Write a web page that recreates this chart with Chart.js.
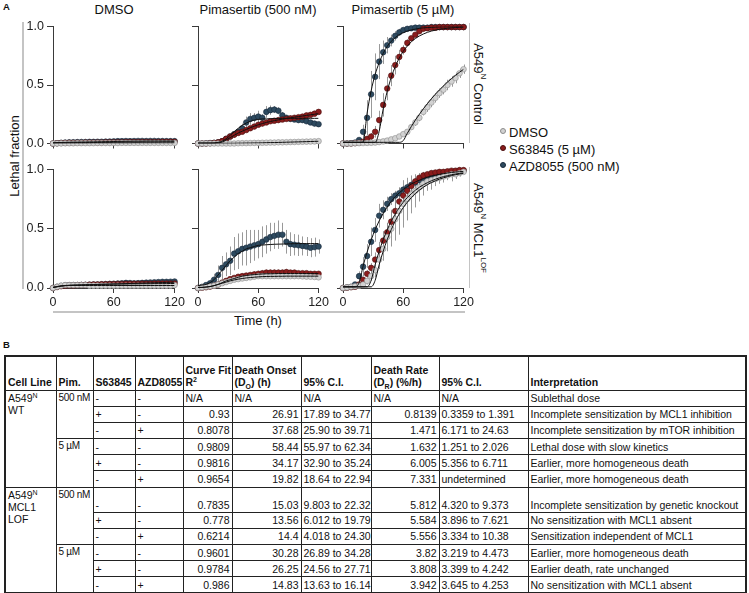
<!DOCTYPE html>
<html lang="en">
<head>
<meta charset="UTF-8">
<title>Lethal fraction kinetics</title>
<script src="https://cdn.jsdelivr.net/npm/chart.js"></script>
<style>
    body {
        margin: 0;
        width: 749px;
        height: 593px;
        position: relative;
        overflow: hidden;
        background: #fff;
        color: #111;
        font-family: Arial, 'Liberation Sans', sans-serif;
    }
    canvas.panel { position: absolute; }
    .lbl { position: absolute; white-space: nowrap; }
    .letter { font-weight: bold; font-size: 9.5px; }
    .title { font-size: 13px; transform: translateX(-50%); }
    .ylab { font-size: 13px; transform: translate(-50%, -50%) rotate(-90deg); }
    .rlab { font-size: 13px; writing-mode: vertical-rl; transform: translate(-50%, -50%); }
    .rlab sup { font-size: 8px; line-height: 0; }
    .rule { position: absolute; background: #c4c4c4; }
    .leg { position: absolute; font-size: 13px; line-height: 16px; white-space: nowrap; }
    .leg i { display: inline-block; width: 4px; height: 4px; border-radius: 50%; margin-right: 3px; vertical-align: 3px; border: 0.6px solid #555; }
    #tbl {
        position: absolute;
        left: 4px;
        top: 355px;
        width: 741px;
        table-layout: fixed;
        border-collapse: collapse;
        border: 2px solid #222;
        font-size: 10.5px;
    }
    #tbl th, #tbl td {
        border: 1px solid #222;
        padding: 0 2px;
        line-height: 12px;
        white-space: nowrap;
        overflow: hidden;
        text-align: left;
        vertical-align: middle;
    }
    #tbl th { font-weight: bold; vertical-align: bottom; padding-bottom: 2px; }
    #tbl thead tr { height: 34px; }
    #tbl tbody tr { height: 16.2px; }
    #tbl tbody tr.tall { height: 25px; }
    #tbl tr.tall td { vertical-align: bottom; padding-bottom: 1px; }
    #tbl td.top, #tbl tr.tall td.top { vertical-align: top; padding-top: 1px; }
    #tbl td.pim { padding: 1px 0 0 2px; font-size: 10px; letter-spacing: -0.3px; overflow: visible; }
    #tbl td.num { text-align: right; }
    #tbl sup, #tbl sub { font-size: 7px; line-height: 0; }
</style>
</head>
<body>
<div class="lbl letter" style="left:3px; top:1px;">A</div>
<div class="lbl title" style="left:114px; top:2px;">DMSO</div>
<div class="lbl title" style="left:258px; top:2px;">Pimasertib (500 nM)</div>
<div class="lbl title" style="left:403px; top:2px;">Pimasertib (5 µM)</div>
<div class="lbl ylab" style="left:14px; top:156px;">Lethal fraction</div>
<div class="rule" style="left:22px; top:22px; width:1.5px; height:267px;"></div>
<div class="lbl title" style="left:258px; top:313px;">Time (h)</div>
<div class="rule" style="left:53px; top:311px; width:412px; height:1.5px;"></div>
<div class="rule" style="left:469px; top:23px; width:1px; height:120px;"></div>
<div class="rule" style="left:469px; top:167px; width:1px; height:121px;"></div>
<div class="lbl rlab" style="left:478px; top:84px;">A549<sup>N</sup> Control</div>
<div class="lbl rlab" style="left:478px; top:228px;">A549<sup>N</sup> MCL1<sup>LOF</sup></div>
<div id="legend"></div>
<div class="lbl letter" style="left:3px; top:339px;">B</div>
<table id="tbl">
    <colgroup>
        <col style="width:51px"><col style="width:37px"><col style="width:42px"><col style="width:48px">
        <col style="width:49px"><col style="width:69px"><col style="width:70px"><col style="width:68px">
        <col style="width:89px"><col style="width:218px">
    </colgroup>
    <thead>
        <tr>
            <th>Cell Line</th><th>Pim.</th><th>S63845</th><th>AZD8055</th>
            <th>Curve Fit<br>R<sup>2</sup></th><th>Death Onset<br>(D<sub>O</sub>) (h)</th><th>95% C.I.</th>
            <th>Death Rate<br>(D<sub>R</sub>) (%/h)</th><th>95% C.I.</th><th>Interpretation</th>
        </tr>
    </thead>
    <tbody id="tbody"></tbody>
</table>

<script>
// time points (h)
const TIME = [0, 4, 8, 12, 16, 20, 24, 28, 32, 36,
    40, 44, 48, 52, 56, 60, 64, 68, 72, 76,
    80, 84, 88, 92, 96, 100, 104, 108, 112, 116, 120];

const SERIES = ['DMSO', 'S63845 (5 µM)', 'AZD8055 (500 nM)'];
const TITLES = ['DMSO', 'Pimasertib (500 nM)', 'Pimasertib (5 µM)'];
const Y_TICKS = [0, 0.5, 1];
const X_TICKS = [0, 60, 120];

// ---- A549N Control, DMSO ----
const CTL_DMSO_DMSO = [0, 0, 0.001, 0.002, 0.002, 0.002, 0.003, 0.003, 0.003, 0.003,
    0.003, 0.004, 0.004, 0.004, 0.004, 0.004, 0.004, 0.005, 0.005, 0.005,
    0.005, 0.005, 0.005, 0.005, 0.005, 0.005, 0.005, 0.005, 0.005, 0.005, 0.005];
const CTL_DMSO_S63 = [0, 0.002, 0.004, 0.005, 0.006, 0.006, 0.007, 0.007, 0.008, 0.008,
    0.008, 0.009, 0.009, 0.010, 0.010, 0.010, 0.011, 0.011, 0.012, 0.012,
    0.012, 0.012, 0.013, 0.013, 0.013, 0.013, 0.013, 0.014, 0.014, 0.014, 0.014];
const CTL_DMSO_AZD = [0, 0.003, 0.006, 0.008, 0.010, 0.011, 0.012, 0.013, 0.013, 0.014,
    0.014, 0.015, 0.015, 0.016, 0.017, 0.018, 0.020, 0.020, 0.021, 0.020,
    0.021, 0.022, 0.022, 0.021, 0.022, 0.022, 0.021, 0.021, 0.020, 0.020, 0.020];
const FIT_CTL_DMSO_DMSO = [0.003, 0.003, 0.003, 0.003, 0.003, 0.003, 0.003, 0.003, 0.003, 0.003,
    0.004, 0.004, 0.004, 0.004, 0.004, 0.004, 0.004, 0.004, 0.004, 0.004,
    0.005, 0.005, 0.005, 0.005, 0.005, 0.005, 0.005, 0.005, 0.005, 0.005, 0.005];
const FIT_CTL_DMSO_S63 = [0.004, 0.005, 0.006, 0.006, 0.007, 0.007, 0.008, 0.008, 0.008, 0.009,
    0.009, 0.009, 0.010, 0.010, 0.010, 0.011, 0.011, 0.011, 0.012, 0.012,
    0.012, 0.012, 0.013, 0.013, 0.013, 0.013, 0.013, 0.014, 0.014, 0.014, 0.014];
const FIT_CTL_DMSO_AZD = [0.006, 0.008, 0.009, 0.010, 0.011, 0.012, 0.012, 0.013, 0.013, 0.014,
    0.014, 0.015, 0.015, 0.016, 0.016, 0.017, 0.018, 0.018, 0.019, 0.019,
    0.020, 0.020, 0.020, 0.021, 0.021, 0.021, 0.021, 0.021, 0.021, 0.021, 0.021];

// ---- A549N Control, Pimasertib 500 nM ----
const CTL_P500_DMSO = [0, 0, 0, 0, 0, 0, 0, 0, 0, 0,
    0.002, 0.003, 0.003, 0.004, 0.005, 0.005, 0.006, 0.007, 0.008, 0.008,
    0.010, 0.010, 0.011, 0.012, 0.013, 0.014, 0.015, 0.016, 0.017, 0.018, 0.020];
const CTL_P500_S63 = [0, 0, 0, 0.002, 0.005, 0.010, 0.020, 0.040, 0.060, 0.075,
    0.090, 0.100, 0.115, 0.130, 0.145, 0.160, 0.170, 0.180, 0.190, 0.195,
    0.200, 0.205, 0.210, 0.215, 0.220, 0.225, 0.230, 0.240, 0.245, 0.255, 0.270];
const CTL_P500_AZD = [0, 0, 0.002, 0.004, 0.006, 0.010, 0.020, 0.040, 0.060, 0.080,
    0.100, 0.130, 0.180, 0.210, 0.220, 0.230, 0.220, 0.270, 0.285, 0.290,
    0.280, 0.240, 0.220, 0.210, 0.205, 0.200, 0.200, 0.190, 0.180, 0.170, 0.165];
const FIT_CTL_P500_DMSO = [0.002, 0.002, 0.002, 0.002, 0.002, 0.002, 0.002, 0.002, 0.002, 0.002,
    0.003, 0.003, 0.004, 0.004, 0.005, 0.005, 0.006, 0.007, 0.008, 0.008,
    0.009, 0.010, 0.011, 0.012, 0.013, 0.014, 0.015, 0.016, 0.017, 0.018, 0.019];
const FIT_CTL_P500_S63 = [0.003, 0.003, 0.003, 0.003, 0.003, 0.005, 0.012, 0.030, 0.050, 0.070,
    0.090, 0.105, 0.120, 0.135, 0.148, 0.160, 0.170, 0.180, 0.188, 0.195,
    0.202, 0.208, 0.214, 0.220, 0.225, 0.230, 0.235, 0.240, 0.245, 0.250, 0.255];
const FIT_CTL_P500_AZD = [0.004, 0.004, 0.004, 0.004, 0.005, 0.010, 0.020, 0.040, 0.070, 0.100,
    0.130, 0.155, 0.175, 0.190, 0.200, 0.205, 0.210, 0.210, 0.212, 0.213,
    0.214, 0.215, 0.215, 0.215, 0.215, 0.215, 0.215, 0.215, 0.215, 0.215, 0.215];
const ERR_CTL_P500_S63 = [0, 0, 0, 0, 0.004, 0.006, 0.010, 0.010, 0.015, 0.020,
    0.020, 0.020, 0.020, 0.020, 0.025, 0.020, 0.020, 0.020, 0.020, 0.020,
    0.020, 0.020, 0.020, 0.020, 0.020, 0.020, 0.020, 0.020, 0.020, 0.020, 0.020];
const ERR_CTL_P500_AZD = [0, 0, 0, 0, 0.004, 0.006, 0.010, 0.015, 0.020, 0.030,
    0.030, 0.040, 0.050, 0.050, 0.040, 0.050, 0.030, 0.050, 0.040, 0.030,
    0.030, 0.030, 0.020, 0.020, 0.020, 0.020, 0.020, 0.020, 0.020, 0.020, 0.020];

// ---- A549N Control, Pimasertib 5 µM ----
const CTL_P5_DMSO = [0, 0, 0, 0.002, 0.003, 0.004, 0.005, 0.006, 0.008, 0.012,
    0.018, 0.025, 0.035, 0.045, 0.060, 0.080, 0.100, 0.140, 0.180, 0.220,
    0.270, 0.310, 0.350, 0.390, 0.430, 0.460, 0.500, 0.530, 0.560, 0.600, 0.635];
const CTL_P5_S63 = [0, 0, 0, 0.003, 0.006, 0.015, 0.040, 0.060, 0.100, 0.200,
    0.330, 0.470, 0.580, 0.670, 0.740, 0.800, 0.860, 0.900, 0.930, 0.960,
    0.980, 0.985, 0.990, 0.990, 0.995, 0.995, 0.995, 0.995, 0.995, 0.995, 0.995];
const CTL_P5_AZD = [0, 0, 0.003, 0.008, 0.030, 0.100, 0.220, 0.420, 0.570, 0.700,
    0.780, 0.840, 0.880, 0.920, 0.950, 0.970, 0.980, 0.985, 0.990, 0.990,
    0.990, 0.990, 0.995, 0.995, 0.995, 0.995, 0.995, 0.995, 0.995, 0.995, 0.995];
const FIT_CTL_P5_DMSO = [0.010, 0.010, 0.010, 0.010, 0.010, 0.010, 0.010, 0.010, 0.010, 0.010,
    0.010, 0.010, 0.010, 0.010, 0.010, 0.025, 0.087, 0.145, 0.200, 0.249,
    0.297, 0.341, 0.383, 0.422, 0.458, 0.492, 0.525, 0.555, 0.583, 0.609, 0.634];
const FIT_CTL_P5_S63 = [0.010, 0.010, 0.010, 0.010, 0.010, 0.010, 0.010, 0.010, 0.010, 0.104,
    0.295, 0.446, 0.564, 0.657, 0.730, 0.788, 0.833, 0.869, 0.897, 0.919,
    0.936, 0.950, 0.961, 0.969, 0.976, 0.981, 0.985, 0.988, 0.991, 0.993, 0.994];
const FIT_CTL_P5_AZD = [0.010, 0.010, 0.010, 0.010, 0.010, 0.013, 0.260, 0.450, 0.590, 0.690,
    0.770, 0.830, 0.873, 0.905, 0.930, 0.947, 0.961, 0.971, 0.978, 0.984,
    0.988, 0.991, 0.993, 0.995, 0.996, 0.997, 0.998, 0.998, 0.999, 0.999, 0.999];
const ERR_CTL_P5_DMSO = [0, 0, 0, 0, 0, 0, 0, 0, 0.005, 0.005,
    0.010, 0.010, 0.010, 0.015, 0.015, 0.020, 0.020, 0.025, 0.030, 0.030,
    0.030, 0.040, 0.040, 0.040, 0.040, 0.040, 0.045, 0.045, 0.045, 0.040, 0.040];
const ERR_CTL_P5_S63 = [0, 0, 0, 0, 0.005, 0.010, 0.020, 0.030, 0.050, 0.080,
    0.100, 0.100, 0.090, 0.080, 0.060, 0.040, 0.030, 0.020, 0.010, 0.010,
    0.010, 0, 0, 0, 0, 0, 0, 0, 0, 0, 0];
const ERR_CTL_P5_AZD = [0, 0, 0, 0.005, 0.020, 0.060, 0.150, 0.200, 0.200, 0.150,
    0.100, 0.070, 0.050, 0.040, 0.030, 0.020, 0.010, 0.010, 0.010, 0.010,
    0.010, 0, 0, 0, 0, 0, 0, 0, 0, 0, 0];

// ---- A549N MCL1 LOF, DMSO ----
const LOF_DMSO_DMSO = [0, 0.010, 0.020, 0.025, 0.025, 0.025, 0.025, 0.025, 0.025, 0.020,
    0.020, 0.020, 0.020, 0.020, 0.020, 0.020, 0.020, 0.020, 0.020, 0.020,
    0.020, 0.020, 0.020, 0.020, 0.020, 0.020, 0.020, 0.020, 0.020, 0.020, 0.025];
const LOF_DMSO_S63 = [0, 0.008, 0.015, 0.020, 0.022, 0.022, 0.024, 0.025, 0.026, 0.028,
    0.030, 0.030, 0.031, 0.032, 0.033, 0.033, 0.034, 0.034, 0.035, 0.035,
    0.035, 0.035, 0.036, 0.036, 0.036, 0.037, 0.037, 0.037, 0.038, 0.038, 0.038];
const LOF_DMSO_AZD = [0, 0.010, 0.018, 0.022, 0.024, 0.025, 0.025, 0.026, 0.027, 0.028,
    0.030, 0.030, 0.032, 0.033, 0.035, 0.036, 0.038, 0.040, 0.043, 0.042,
    0.040, 0.041, 0.043, 0.045, 0.047, 0.048, 0.050, 0.052, 0.052, 0.053, 0.055];
const FIT_LOF_DMSO_DMSO = [0.005, 0.012, 0.018, 0.020, 0.021, 0.021, 0.021, 0.021, 0.021, 0.021,
    0.021, 0.021, 0.021, 0.021, 0.021, 0.021, 0.021, 0.021, 0.021, 0.021,
    0.021, 0.021, 0.021, 0.021, 0.021, 0.021, 0.021, 0.021, 0.021, 0.021, 0.021];
const FIT_LOF_DMSO_S63 = [0.005, 0.010, 0.016, 0.020, 0.022, 0.024, 0.025, 0.026, 0.027, 0.028,
    0.029, 0.030, 0.031, 0.031, 0.032, 0.033, 0.033, 0.034, 0.034, 0.035,
    0.035, 0.035, 0.036, 0.036, 0.036, 0.037, 0.037, 0.037, 0.037, 0.038, 0.038];
const FIT_LOF_DMSO_AZD = [0.005, 0.011, 0.017, 0.021, 0.023, 0.024, 0.025, 0.026, 0.027, 0.028,
    0.029, 0.030, 0.031, 0.032, 0.033, 0.034, 0.035, 0.036, 0.037, 0.038,
    0.039, 0.040, 0.041, 0.042, 0.043, 0.044, 0.045, 0.046, 0.047, 0.048, 0.049];
const ERR_LOF_DMSO_AZD = [0, 0.003, 0.004, 0.005, 0.005, 0.005, 0.005, 0.006, 0.006, 0.006,
    0.007, 0.007, 0.007, 0.008, 0.008, 0.008, 0.009, 0.009, 0.010, 0.010,
    0.010, 0.010, 0.011, 0.011, 0.012, 0.012, 0.012, 0.012, 0.012, 0.012, 0.012];

// ---- A549N MCL1 LOF, Pimasertib 500 nM ----
const LOF_P500_DMSO = [0, 0.005, 0.010, 0.015, 0.020, 0.030, 0.040, 0.050, 0.060, 0.070,
    0.075, 0.080, 0.085, 0.090, 0.095, 0.100, 0.100, 0.100, 0.100, 0.100,
    0.100, 0.100, 0.100, 0.100, 0.100, 0.100, 0.098, 0.096, 0.095, 0.093, 0.090];
const LOF_P500_S63 = [0, 0.002, 0.006, 0.012, 0.020, 0.030, 0.045, 0.060, 0.075, 0.085,
    0.095, 0.100, 0.105, 0.110, 0.115, 0.120, 0.125, 0.130, 0.130, 0.130,
    0.130, 0.130, 0.135, 0.130, 0.130, 0.125, 0.125, 0.125, 0.120, 0.120, 0.120];
const LOF_P500_AZD = [0, 0.010, 0.025, 0.040, 0.070, 0.110, 0.170, 0.200, 0.230, 0.290,
    0.310, 0.330, 0.340, 0.350, 0.360, 0.370, 0.390, 0.410, 0.430, 0.440,
    0.450, 0.450, 0.390, 0.370, 0.365, 0.360, 0.355, 0.350, 0.340, 0.345, 0.350];
const FIT_LOF_P500_DMSO = [0.005, 0.005, 0.008, 0.012, 0.020, 0.030, 0.040, 0.050, 0.060, 0.068,
    0.075, 0.080, 0.085, 0.088, 0.091, 0.094, 0.096, 0.097, 0.098, 0.098,
    0.099, 0.099, 0.100, 0.100, 0.100, 0.100, 0.100, 0.100, 0.100, 0.100, 0.100];
const FIT_LOF_P500_S63 = [0.005, 0.005, 0.008, 0.012, 0.020, 0.030, 0.045, 0.060, 0.070, 0.080,
    0.090, 0.100, 0.105, 0.110, 0.113, 0.116, 0.118, 0.120, 0.120, 0.121,
    0.122, 0.122, 0.122, 0.122, 0.122, 0.122, 0.122, 0.122, 0.122, 0.122, 0.122];
const FIT_LOF_P500_AZD = [0.020, 0.025, 0.030, 0.045, 0.070, 0.110, 0.150, 0.190, 0.230, 0.260,
    0.290, 0.310, 0.330, 0.340, 0.350, 0.360, 0.362, 0.365, 0.367, 0.369,
    0.370, 0.371, 0.372, 0.373, 0.374, 0.375, 0.375, 0.375, 0.375, 0.375, 0.375];
const ERR_LOF_P500_DMSO = [0, 0.002, 0.003, 0.004, 0.005, 0.006, 0.007, 0.008, 0.009, 0.010,
    0.010, 0.010, 0.010, 0.010, 0.010, 0.010, 0.010, 0.010, 0.010, 0.010,
    0.010, 0.010, 0.010, 0.010, 0.010, 0.010, 0.010, 0.010, 0.010, 0.010, 0.010];
const ERR_LOF_P500_S63 = [0, 0.003, 0.005, 0.008, 0.010, 0.012, 0.015, 0.018, 0.020, 0.020,
    0.020, 0.022, 0.022, 0.022, 0.025, 0.025, 0.025, 0.025, 0.025, 0.025,
    0.025, 0.025, 0.025, 0.022, 0.022, 0.020, 0.020, 0.020, 0.020, 0.018, 0.018];
const ERR_LOF_P500_AZD = [0, 0.010, 0.020, 0.030, 0.050, 0.080, 0.100, 0.100, 0.120, 0.140,
    0.150, 0.140, 0.150, 0.140, 0.130, 0.120, 0.130, 0.120, 0.120, 0.110,
    0.120, 0.100, 0.100, 0.100, 0.090, 0.090, 0.080, 0.080, 0.080, 0.080, 0.060];

// ---- A549N MCL1 LOF, Pimasertib 5 µM ----
const LOF_P5_DMSO = [0, 0.005, 0.010, 0.015, 0.020, 0.030, 0.060, 0.100, 0.150, 0.240,
    0.330, 0.430, 0.500, 0.580, 0.650, 0.710, 0.750, 0.790, 0.820, 0.850,
    0.880, 0.900, 0.910, 0.920, 0.930, 0.940, 0.950, 0.960, 0.960, 0.970, 0.980];
const LOF_P5_S63 = [0, 0.003, 0.006, 0.010, 0.030, 0.070, 0.120, 0.170, 0.240, 0.320,
    0.400, 0.470, 0.560, 0.650, 0.730, 0.780, 0.820, 0.860, 0.900, 0.930,
    0.950, 0.960, 0.970, 0.975, 0.980, 0.980, 0.985, 0.990, 0.990, 0.995, 0.995];
const LOF_P5_AZD = [0, 0.005, 0.010, 0.030, 0.100, 0.180, 0.270, 0.390, 0.490, 0.610,
    0.660, 0.710, 0.750, 0.780, 0.800, 0.830, 0.850, 0.870, 0.890, 0.910,
    0.930, 0.940, 0.950, 0.960, 0.960, 0.970, 0.975, 0.980, 0.985, 0.990, 0.990];
const FIT_LOF_P5_DMSO = [0.010, 0.010, 0.010, 0.010, 0.010, 0.010, 0.010, 0.010, 0.064, 0.196,
    0.310, 0.408, 0.492, 0.564, 0.626, 0.679, 0.724, 0.763, 0.797, 0.826,
    0.850, 0.872, 0.890, 0.905, 0.919, 0.930, 0.940, 0.949, 0.956, 0.962, 0.968];
const FIT_LOF_P5_S63 = [0.010, 0.010, 0.010, 0.010, 0.010, 0.010, 0.010, 0.064, 0.197, 0.309,
    0.408, 0.491, 0.563, 0.625, 0.678, 0.724, 0.763, 0.796, 0.825, 0.850,
    0.871, 0.889, 0.905, 0.918, 0.930, 0.940, 0.948, 0.956, 0.962, 0.967, 0.972];
const FIT_LOF_P5_AZD = [0.010, 0.010, 0.010, 0.010, 0.045, 0.185, 0.303, 0.405, 0.492, 0.566,
    0.630, 0.684, 0.730, 0.770, 0.803, 0.832, 0.856, 0.877, 0.895, 0.910,
    0.923, 0.935, 0.944, 0.952, 0.959, 0.965, 0.970, 0.975, 0.978, 0.982, 0.984];
const ERR_LOF_P5_DMSO = [0, 0, 0.005, 0.010, 0.010, 0.020, 0.030, 0.040, 0.060, 0.080,
    0.100, 0.120, 0.150, 0.180, 0.200, 0.200, 0.180, 0.160, 0.140, 0.120,
    0.100, 0.080, 0.080, 0.060, 0.050, 0.050, 0.040, 0.060, 0.040, 0.030, 0.020];
const ERR_LOF_P5_S63 = [0, 0, 0, 0.005, 0.010, 0.020, 0.030, 0.040, 0.060, 0.070,
    0.080, 0.080, 0.100, 0.080, 0.070, 0.060, 0.050, 0.040, 0.030, 0.030,
    0.020, 0.020, 0.020, 0.010, 0.010, 0.010, 0.010, 0.010, 0.010, 0.010, 0.010];
const ERR_LOF_P5_AZD = [0, 0, 0.005, 0.010, 0.040, 0.080, 0.100, 0.120, 0.100, 0.100,
    0.080, 0.060, 0.050, 0.040, 0.040, 0.030, 0.030, 0.030, 0.020, 0.020,
    0.020, 0.020, 0.020, 0.010, 0.010, 0.010, 0.010, 0.010, 0.010, 0.010, 0.010];

// ---- table B ----
const TBL_PIM = ['500 nM', '5 µM'];
const TBL_S63 = ['-', '+', '-', '-', '+', '-', '-', '+', '-', '-', '+', '-'];
const TBL_AZD = ['-', '-', '+', '-', '-', '+', '-', '-', '+', '-', '-', '+'];
const TBL_R2 = ['N/A', '0.93', '0.8078', '0.9809', '0.9816', '0.9654', '0.7835', '0.778', '0.6214', '0.9601', '0.9784', '0.986'];
const TBL_ONSET = ['N/A', '26.91', '37.68', '58.44', '34.17', '19.82', '15.03', '13.56', '14.4', '30.28', '26.25', '14.83'];
const TBL_ONSET_CI = ['N/A', '17.89 to 34.77', '25.90 to 39.71', '55.97 to 62.34', '32.90 to 35.24', '18.64 to 22.94',
    '9.803 to 22.32', '6.012 to 19.79', '4.018 to 24.30', '26.89 to 34.28', '24.56 to 27.71', '13.63 to 16.14'];
const TBL_RATE = ['N/A', '0.8139', '1.471', '1.632', '6.005', '7.331', '5.812', '5.584', '5.556', '3.82', '3.808', '3.942'];
const TBL_RATE_CI = ['N/A', '0.3359 to 1.391', '6.171 to 24.63', '1.251 to 2.026', '5.356 to 6.711', 'undetermined',
    '4.320 to 9.373', '3.896 to 7.621', '3.334 to 10.38', '3.219 to 4.473', '3.399 to 4.242', '3.645 to 4.253'];
const TBL_INTERP = ['Sublethal dose', 'Incomplete sensitization by MCL1 inhibition', 'Incomplete sensitization by mTOR inhibition',
    'Lethal dose with slow kinetics', 'Earlier, more homogeneous death', 'Earlier, more homogeneous death',
    'Incomplete sensitization by genetic knockout', 'No sensitization with MCL1 absent', 'Sensitization independent of MCL1',
    'Earlier, more homogeneous death', 'Earlier death, rate unchanged', 'No sensitization with MCL1 absent'];
const TBL_CELL = ['A549<sup>N</sup><br>WT', 'A549<sup>N</sup><br>MCL1<br>LOF'];

const FONT = "Arial, 'Liberation Sans', sans-serif";
const FILL = ['#d2d2d2', '#8b1c1c', '#2d4a5f'];
const EDGE = ['#8c8c8c', '#4a0f0f', '#17283a'];
const AXIS = '#3a3a3a';

// layout of the six plot areas
const COL_X = [53, 198, 343];
const COL_W = [122, 121, 121];
const ROW_Y = [24, 167];
const ROW_H = [120, 121];

const PANELS = [
    [0, 0, [CTL_DMSO_DMSO, CTL_DMSO_S63, CTL_DMSO_AZD], [FIT_CTL_DMSO_DMSO, FIT_CTL_DMSO_S63, FIT_CTL_DMSO_AZD], [null, null, null]],
    [0, 1, [CTL_P500_DMSO, CTL_P500_S63, CTL_P500_AZD], [FIT_CTL_P500_DMSO, FIT_CTL_P500_S63, FIT_CTL_P500_AZD], [null, ERR_CTL_P500_S63, ERR_CTL_P500_AZD]],
    [0, 2, [CTL_P5_DMSO, CTL_P5_S63, CTL_P5_AZD], [FIT_CTL_P5_DMSO, FIT_CTL_P5_S63, FIT_CTL_P5_AZD], [ERR_CTL_P5_DMSO, ERR_CTL_P5_S63, ERR_CTL_P5_AZD]],
    [1, 0, [LOF_DMSO_DMSO, LOF_DMSO_S63, LOF_DMSO_AZD], [FIT_LOF_DMSO_DMSO, FIT_LOF_DMSO_S63, FIT_LOF_DMSO_AZD], [null, null, ERR_LOF_DMSO_AZD]],
    [1, 1, [LOF_P500_DMSO, LOF_P500_S63, LOF_P500_AZD], [FIT_LOF_P500_DMSO, FIT_LOF_P500_S63, FIT_LOF_P500_AZD], [ERR_LOF_P500_DMSO, ERR_LOF_P500_S63, ERR_LOF_P500_AZD]],
    [1, 2, [LOF_P5_DMSO, LOF_P5_S63, LOF_P5_AZD], [FIT_LOF_P5_DMSO, FIT_LOF_P5_S63, FIT_LOF_P5_AZD], [ERR_LOF_P5_DMSO, ERR_LOF_P5_S63, ERR_LOF_P5_AZD]]
];

// vertical SD bars, drawn under the points
const errorBars = {
    id: 'errorBars',
    beforeDatasetsDraw(chart) {
        const { ctx, scales: { x, y } } = chart;
        ctx.save();
        ctx.strokeStyle = 'rgba(135,135,135,0.85)';
        ctx.lineWidth = 1;
        chart.data.datasets.forEach(ds => {
            if (!ds.errors) return;
            ds.data.forEach((p, i) => {
                const e = ds.errors[i];
                if (!e) return;
                const px = Math.round(x.getPixelForValue(p.x)) + 0.5;
                ctx.beginPath();
                ctx.moveTo(px, y.getPixelForValue(Math.max(p.y - e, 0)));
                ctx.lineTo(px, y.getPixelForValue(Math.min(p.y + e, 1)));
                ctx.stroke();
            });
        });
        ctx.restore();
    }
};

function toPoints(arr) {
    return arr.map((v, i) => ({ x: TIME[i], y: v }));
}

const PAD_T = 8, PAD_R = 12, Y_W = 50;

PANELS.forEach(([row, col, vals, fits, errs]) => {
    const xH = row === 1 ? 26 : 10;
    const cv = document.createElement('canvas');
    cv.className = 'panel';
    cv.width = Y_W + COL_W[col] + PAD_R;
    cv.height = PAD_T + ROW_H[row] + xH;
    cv.style.left = (COL_X[col] - Y_W) + 'px';
    cv.style.top = (ROW_Y[row] - PAD_T) + 'px';
    document.body.appendChild(cv);

    const datasets = [];
    fits.forEach(f => datasets.push({
        type: 'line', data: toPoints(f), order: 0,
        borderColor: '#111', borderWidth: 1, pointRadius: 0,
        cubicInterpolationMode: 'monotone', fill: false
    }));
    vals.forEach((v, s) => datasets.push({
        type: 'line', label: SERIES[s], data: toPoints(v), errors: errs[s], order: s + 1,
        showLine: false, pointRadius: 2.8, pointBorderWidth: 0.6,
        pointBackgroundColor: FILL[s], pointBorderColor: EDGE[s], clip: false
    }));

    new Chart(cv, {
        type: 'line',
        data: { datasets },
        plugins: [errorBars],
        options: {
            responsive: false,
            animation: false,
            events: [],
            layout: { padding: { top: PAD_T, right: PAD_R, left: 0, bottom: 0 } },
            plugins: { legend: { display: false }, tooltip: { enabled: false } },
            scales: {
                x: {
                    type: 'linear', min: 0, max: 120,
                    afterFit: s => { s.height = xH; },
                    afterBuildTicks: s => { s.ticks = X_TICKS.map(v => ({ value: v })); },
                    ticks: { color: row === 1 ? '#222' : 'rgba(0,0,0,0)', font: { size: 12.5, family: FONT }, padding: 2, maxRotation: 0 },
                    grid: { drawOnChartArea: false, drawTicks: true, tickLength: 5, color: AXIS },
                    border: { display: true, color: AXIS }
                },
                y: {
                    type: 'linear', min: 0, max: 1,
                    afterFit: s => { s.width = Y_W; },
                    afterBuildTicks: s => { s.ticks = Y_TICKS.map(v => ({ value: v })); },
                    ticks: { color: col === 0 ? '#222' : 'rgba(0,0,0,0)', font: { size: 12.5, family: FONT }, padding: 3,
                        callback: v => v.toFixed(1) },
                    grid: { drawOnChartArea: false, drawTicks: true, tickLength: 6, color: AXIS },
                    border: { display: true, color: AXIS }
                }
            }
        }
    });
});

// legend
const LEG_Y = [125, 142, 159];
const legend = document.getElementById('legend');
SERIES.forEach((name, s) => {
    const d = document.createElement('div');
    d.className = 'leg';
    d.style.left = '500px';
    d.style.top = LEG_Y[s] + 'px';
    d.innerHTML = '<i style="background:' + FILL[s] + '; border-color:' + EDGE[s] + '"></i>' + name;
    legend.appendChild(d);
});

// table B
const tbody = document.getElementById('tbody');
TBL_R2.forEach((r2, i) => {
    const tr = document.createElement('tr');
    if (i === 6) tr.className = 'tall';
    let html = '';
    if (i % 6 === 0) html += '<td class="top" rowspan="6">' + TBL_CELL[i / 6] + '</td>';
    if (i % 3 === 0) html += '<td class="top pim" rowspan="3">' + TBL_PIM[(i / 3) % 2] + '</td>';
    const numCls = v => v === 'N/A' ? '' : ' class="num"';
    html += '<td>' + TBL_S63[i] + '</td><td>' + TBL_AZD[i] + '</td>';
    html += '<td' + numCls(r2) + '>' + r2 + '</td>';
    html += '<td' + numCls(TBL_ONSET[i]) + '>' + TBL_ONSET[i] + '</td>';
    html += '<td>' + TBL_ONSET_CI[i] + '</td>';
    html += '<td' + numCls(TBL_RATE[i]) + '>' + TBL_RATE[i] + '</td>';
    html += '<td>' + TBL_RATE_CI[i] + '</td>';
    html += '<td>' + TBL_INTERP[i] + '</td>';
    tr.innerHTML = html;
    tbody.appendChild(tr);
});
</script>
</body>
</html>
